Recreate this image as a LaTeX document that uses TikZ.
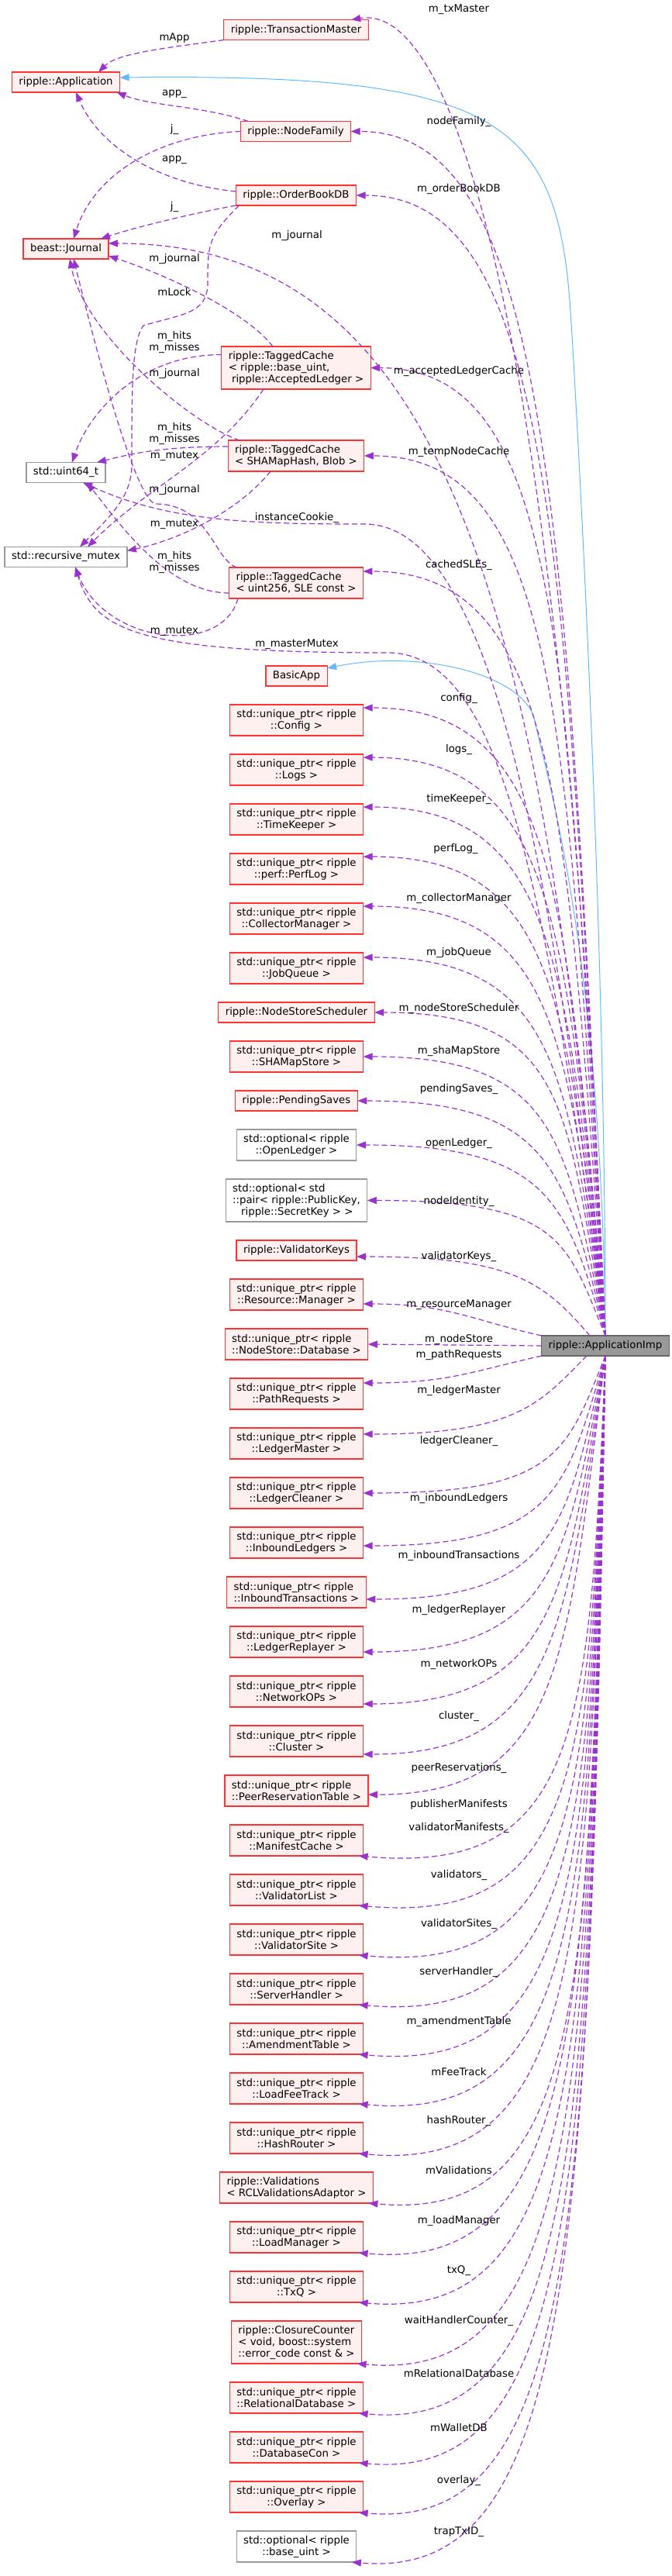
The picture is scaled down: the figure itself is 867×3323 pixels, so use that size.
\documentclass[tikz,border=0pt]{standalone}
\usepackage{fontspec}
\setmainfont{DejaVu Sans}
\usepackage{xcolor}
\usetikzlibrary{arrows.meta,positioning}
\definecolor{GPurple}{HTML}{9A32CD}
\definecolor{GBlue}{HTML}{63B8FF}
\definecolor{GRed}{HTML}{FF3333}
\definecolor{GPink}{HTML}{FFF0F0}
\definecolor{GGray}{HTML}{999999}
\definecolor{GDark}{HTML}{666666}

\begin{document}
\begin{tikzpicture}[
  x=1pt, y=-1pt,
  node distance=24pt,
  every node/.style={font=\fontsize{13.3}{15}\selectfont},
  n/.style={draw=GRed,fill=GPink,line width=1.2pt,inner xsep=9pt,inner ysep=3pt,
    minimum height=26pt,align=center,outer sep=0pt},
  s/.style={n,draw=GGray,fill=white},
  d/.style={n,draw=GDark,fill=GGray},
  two/.style={minimum height=40pt},
  three/.style={minimum height=55pt},
  a/.style={draw=GPurple,line width=1.2pt,dash pattern=on 7pt off 4pt,
    -{Triangle[length=12pt,width=9pt]}},
  b/.style={draw=GBlue,line width=1pt,-{Triangle[length=12pt,width=9pt]}},
  t/.style={inner sep=0pt,align=center}
]
  \useasboundingbox (0,0) rectangle (867,3323);
  % used classes, top left
  \node[n] (trm) at (382,38.5) {ripple::TransactionMaster};
  \node[n] (app) at (85,106) {ripple::Application};
  \node[n] (nf) at (381.5,169.5) {ripple::NodeFamily};
  \node[n] (obdb) at (382,252) {ripple::OrderBookDB};
  \node[n] (jr) at (85,321) {beast::Journal};
  \node[n,three,align=left] (alc) at (382,474.5) {ripple::TaggedCache\\< ripple::base\_uint,\\\ ripple::AcceptedLedger >};
  \node[n,two,align=left] (shc) at (382,588) {ripple::TaggedCache\\< SHAMapHash, Blob >};
  \node[s] (u64) at (85,609.5) {std::uint64\_t};
  \node[s] (rmx) at (85,718.5) {std::recursive\_mutex};
  \node[n,two,align=left] (uc) at (382,752) {ripple::TaggedCache\\< uint256, SLE const >};
  \node[n] (ba) at (382.5,872) {BasicApp};
  \node[d] (imp) at (781,1736) {ripple::ApplicationImp};
  % member column
  \node[n,two,below=of ba] (cfg) {std::unique\_ptr< ripple\\::Config >};
  \node[n,two,below=of cfg] (logs) {std::unique\_ptr< ripple\\::Logs >};
  \node[n,two,below=of logs] (tk) {std::unique\_ptr< ripple\\::TimeKeeper >};
  \node[n,two,below=of tk] (plog) {std::unique\_ptr< ripple\\::perf::PerfLog >};
  \node[n,two,below=of plog] (cmgr) {std::unique\_ptr< ripple\\::CollectorManager >};
  \node[n,two,below=of cmgr] (jq) {std::unique\_ptr< ripple\\::JobQueue >};
  \node[n,below=of jq] (nss) {ripple::NodeStoreScheduler};
  \node[n,two,below=of nss] (sms) {std::unique\_ptr< ripple\\::SHAMapStore >};
  \node[n,below=of sms] (ps) {ripple::PendingSaves};
  \node[s,two,below=of ps] (ol) {std::optional< ripple\\::OpenLedger >};
  \node[s,three,align=left,below=of ol] (nid) {std::optional< std\\::pair< ripple::PublicKey,\\\hspace*{11pt}ripple::SecretKey > >};
  \node[n,below=of nid] (vk) {ripple::ValidatorKeys};
  \node[n,two,below=of vk] (rsm) {std::unique\_ptr< ripple\\::Resource::Manager >};
  \node[n,two,align=left,below=of rsm] (nsdb) {std::unique\_ptr< ripple\\::NodeStore::Database >};
  \node[n,two,below=of nsdb] (pr) {std::unique\_ptr< ripple\\::PathRequests >};
  \node[n,two,below=of pr] (lm) {std::unique\_ptr< ripple\\::LedgerMaster >};
  \node[n,two,below=of lm] (lc) {std::unique\_ptr< ripple\\::LedgerCleaner >};
  \node[n,two,below=of lc] (il) {std::unique\_ptr< ripple\\::InboundLedgers >};
  \node[n,two,align=left,below=of il] (it) {std::unique\_ptr< ripple\\::InboundTransactions >};
  \node[n,two,below=of it] (lr) {std::unique\_ptr< ripple\\::LedgerReplayer >};
  \node[n,two,below=of lr] (nops) {std::unique\_ptr< ripple\\::NetworkOPs >};
  \node[n,two,below=of nops] (clu) {std::unique\_ptr< ripple\\::Cluster >};
  \node[n,two,align=left,below=of clu] (prt) {std::unique\_ptr< ripple\\::PeerReservationTable >};
  \node[n,two,below=of prt] (mc) {std::unique\_ptr< ripple\\::ManifestCache >};
  \node[n,two,below=of mc] (vl) {std::unique\_ptr< ripple\\::ValidatorList >};
  \node[n,two,below=of vl] (vs) {std::unique\_ptr< ripple\\::ValidatorSite >};
  \node[n,two,below=of vs] (sh) {std::unique\_ptr< ripple\\::ServerHandler >};
  \node[n,two,below=of sh] (amt) {std::unique\_ptr< ripple\\::AmendmentTable >};
  \node[n,two,below=of amt] (lft) {std::unique\_ptr< ripple\\::LoadFeeTrack >};
  \node[n,two,below=of lft] (hr) {std::unique\_ptr< ripple\\::HashRouter >};
  \node[n,two,align=left,below=of hr] (vals) {ripple::Validations\\< RCLValidationsAdaptor >};
  \node[n,two,below=of vals] (ldm) {std::unique\_ptr< ripple\\::LoadManager >};
  \node[n,two,below=of ldm] (txq) {std::unique\_ptr< ripple\\::TxQ >};
  \node[n,three,align=left,below=of txq] (cc) {ripple::ClosureCounter\\< void, boost::system\\::error\_code const \& >};
  \node[n,two,align=left,below=of cc] (rdb) {std::unique\_ptr< ripple\\::RelationalDatabase >};
  \node[n,two,below=of rdb] (dbc) {std::unique\_ptr< ripple\\::DatabaseCon >};
  \node[n,two,below=of dbc] (ovl) {std::unique\_ptr< ripple\\::Overlay >};
  \node[s,two,below=of ovl] (ttx) {std::optional< ripple\\::base\_uint >};

  % inheritance
  \draw[b] (imp.north) .. controls +(0,-523) and +(10,151) .. (736,402) .. controls +(-16,-252) and +(484,-5) .. ([yshift=6pt]app.east);
  \draw[b] (imp.north) .. controls +(-5,-500) and +(12,60) .. (690,930) .. controls +(-12,-60) and +(120,-25) .. ([yshift=10pt]ba.east);

  % links among the used classes
  \draw[a] (trm.south west) .. controls +(-70,10) and +(25,-25) .. ([xshift=42pt]app.north);
  \draw[a] ([xshift=10pt]nf.north west) .. controls +(-60,-20) and +(45,18) .. ([xshift=-4pt]app.south east);
  \draw[a] (nf.west) .. controls +(-110,5) and +(25,-80) .. ([xshift=10pt]jr.north);
  \draw[a] ([yshift=5pt]obdb.west) .. controls +(-100,-10) and +(30,70) .. ([xshift=13pt]app.south);
  \draw[a] (obdb.south west) .. controls +(-80,15) and +(30,-10) .. ([xshift=-10pt]jr.north east);
  \draw[a] ([xshift=4pt]obdb.south west) .. controls +(-40,40) and +(0,-50) .. (268,365) .. controls +(0,40) and +(50,-15) .. (185,420) .. controls +(-15,20) and +(0,-100) .. (170,600) .. controls +(0,40) and +(40,-40) .. ([xshift=18pt]rmx.north);
  \draw[a] ([xshift=-30pt]alc.north) .. controls +(-30,-40) and +(90,30) .. ([yshift=-9pt]jr.east);
  \draw[a] ([yshift=17pt]alc.west) .. controls +(-110,0) and +(20,-60) .. ([xshift=8pt]u64.north);
  \draw[a] ([xshift=-42pt]alc.south) .. controls +(-60,90) and +(80,-80) .. ([xshift=28pt]rmx.north);
  \draw[a] ([xshift=15pt]shc.north west) .. controls +(-60,-20) and +(20,100) .. ([xshift=5pt]jr.south);
  \draw[a] ([yshift=12pt]shc.west) .. controls +(-90,0) and +(40,-10) .. ([xshift=40pt]u64.north);
  \draw[a] ([xshift=-33pt]shc.south) .. controls +(-40,50) and +(70,-15) .. ([yshift=8pt]rmx.east);
  \draw[a] ([xshift=10pt]uc.north west) .. controls +(-30,-10) and +(70,0) .. (200,650) .. controls +(-30,-10) and +(15,60) .. ([xshift=10pt]jr.south);
  \draw[a] ([yshift=-13pt]uc.west) .. controls +(-80,0) and +(40,50) .. ([xshift=27pt]u64.south);
  \draw[a] ([xshift=-75pt]uc.south) .. controls +(-20,75) and +(40,100) .. ([xshift=12pt]rmx.south);

  % members of ApplicationImp, upwards
  \draw[a] (imp.north) .. controls +(-50,-1188) and +(150,-25) .. ([xshift=-22pt]trm.north east);
  \draw[a] (imp.north) .. controls +(-50,-1090) and +(250,0) .. (nf.east);
  \draw[a] (imp.north) .. controls +(-50,-1030) and +(250,0) .. (obdb.east);
  \draw[a] (imp.north) .. controls +(-80,-986) and +(420,0) .. ([yshift=7pt]jr.east);
  \draw[a] (imp.north) .. controls +(-50,-873) and +(250,0) .. (alc.east);
  \draw[a] (imp.north) .. controls +(-50,-795) and +(250,0) .. (shc.east);
  \draw[a] (imp.north) .. controls +(-50,-690) and +(250,0) .. ([yshift=15pt]uc.east);
  \draw[a] (imp.north) .. controls +(-80,-740) and +(140,0) .. (470,676) .. controls +(-150,0) and +(110,50) .. ([xshift=22pt]u64.south);
  \draw[a] (imp.north) .. controls +(-80,-620) and +(140,0) .. (500,842) .. controls +(-330,0) and +(25,80) .. ([xshift=12pt]rmx.south);
  \draw[a] (imp.north) .. controls +(-50,-567) and +(250,0) .. ([yshift=-4pt]cfg.north east);
  \draw[a] (imp.north) .. controls +(-50,-522) and +(250,0) .. ([yshift=-4pt]logs.north east);
  \draw[a] (imp.north) .. controls +(-50,-477) and +(250,0) .. ([yshift=-4pt]tk.north east);
  \draw[a] (imp.north) .. controls +(-50,-433) and +(250,0) .. ([yshift=-4pt]plog.north east);
  \draw[a] (imp.north) .. controls +(-50,-388) and +(250,0) .. ([yshift=-4pt]cmgr.north east);
  \draw[a] (imp.north) .. controls +(-50,-343) and +(250,0) .. ([yshift=-6pt]jq.north east);
  \draw[a] (imp.north) .. controls +(-50,-292) and +(250,0) .. (nss.east);
  \draw[a] (imp.north) .. controls +(-50,-252) and +(250,0) .. (sms.east);
  \draw[a] (imp.north) .. controls +(-50,-212) and +(250,0) .. (ps.east);
  \draw[a] (imp.north) .. controls +(-50,-171) and +(250,0) .. (ol.east);
  \draw[a] (imp.north) .. controls +(-50,-122) and +(250,0) .. (nid.east);
  \draw[a] ([xshift=-20pt]imp.north) .. controls +(-60,-70) and +(200,0) .. ([yshift=-8pt]vk.east);
  \draw[a] (imp.north west) .. controls +(-90,-20) and +(110,0) .. ([yshift=-12pt]rsm.east);
  \draw[a] (imp.west) -- (nsdb.east);
  % members of ApplicationImp, downwards
  \draw[a] (imp.south west) .. controls +(-90,20) and +(110,0) .. ([yshift=14pt]pr.east);
  \draw[a] ([xshift=-24pt]imp.south) .. controls +(-60,60) and +(200,0) .. ([yshift=12pt]lm.east);
  \draw[a] (imp.south) .. controls +(-50,125) and +(250,0) .. (lc.east);
  \draw[a] (imp.south) .. controls +(-50,170) and +(250,0) .. ([yshift=-4pt]il.east);
  \draw[a] (imp.south) .. controls +(-50,215) and +(250,0) .. ([yshift=-9pt]it.east);
  \draw[a] (imp.south) .. controls +(-50,260) and +(250,0) .. ([yshift=-13pt]lr.east);
  \draw[a] (imp.south) .. controls +(-50,305) and +(250,0) .. ([yshift=-16pt]nops.east);
  \draw[a] (imp.south) .. controls +(-50,349) and +(250,0) .. ([yshift=-17pt]clu.east);
  \draw[a] (imp.south) .. controls +(-50,394) and +(250,0) .. ([yshift=-5pt]prt.east);
  \draw[a] (imp.south) .. controls +(-20,485) and +(285,25) .. ([xshift=-6pt]mc.south east);
  \draw[a] (imp.south) .. controls +(-20,533) and +(285,25) .. ([xshift=-6pt]vl.south east);
  \draw[a] (imp.south) .. controls +(-20,581) and +(285,25) .. ([xshift=-6pt]vs.south east);
  \draw[a] (imp.south) .. controls +(-20,629) and +(285,25) .. ([xshift=-6pt]sh.south east);
  \draw[a] (imp.south) .. controls +(-20,677) and +(285,25) .. ([xshift=-6pt]amt.south east);
  \draw[a] (imp.south) .. controls +(-20,725) and +(285,25) .. ([xshift=-6pt]lft.south east);
  \draw[a] (imp.south) .. controls +(-20,773) and +(285,25) .. ([xshift=-6pt]hr.south east);
  \draw[a] (imp.south) .. controls +(-20,821) and +(285,25) .. ([xshift=-6pt]vals.south east);
  \draw[a] (imp.south) .. controls +(-20,869) and +(285,25) .. ([xshift=-6pt]ldm.south east);
  \draw[a] (imp.south) .. controls +(-20,917) and +(285,25) .. ([xshift=-6pt]txq.south east);
  \draw[a] (imp.south) .. controls +(-20,975) and +(285,25) .. ([xshift=-6pt]cc.south east);
  \draw[a] (imp.south) .. controls +(-20,1023) and +(285,25) .. ([xshift=-6pt]rdb.south east);
  \draw[a] (imp.south) .. controls +(-20,1071) and +(285,25) .. ([xshift=-6pt]dbc.south east);
  \draw[a] (imp.south) .. controls +(-20,1119) and +(285,25) .. ([xshift=-6pt]ovl.south east);
  \draw[a] (imp.south) .. controls +(-20,1167) and +(285,25) .. ([xshift=-6pt]ttx.south east);

  % edge labels
  \node[t] (ltrm) at (592,12) {m\_txMaster};
  \node[t] (lmapp) at (225,49) {mApp};
  \node[t] (lapp1) at (225,121) {app\_};
  \node[t] (lnf) at (592,157) {nodeFamily\_};
  \node[t] (lj1) at (225,167) {j\_};
  \node[t] (lapp2) at (225,206) {app\_};
  \node[t] (lobdb) at (592,244) {m\_orderBookDB};
  \node[t] (lj2) at (225,267) {j\_};
  \node[t] (ljr0) at (383,304) {m\_journal};
  \node[t] (ljr1) at (225,334) {m\_journal};
  \node[t] (llock) at (225,377) {mLock};
  \node[t] (lhit1) at (225,442) {m\_hits\\m\_misses};
  \node[t] (ljr2) at (225,482) {m\_journal};
  \node[t] (lalc) at (592,479) {m\_acceptedLedgerCache};
  \node[t] (lhit2) at (225,560) {m\_hits\\m\_misses};
  \node[t] (lmtx1) at (225,588) {m\_mutex};
  \node[t] (lshc) at (592,583) {m\_tempNodeCache};
  \node[t] (ljr3) at (225,632) {m\_journal};
  \node[t] (lcookie) at (383,668) {instanceCookie\_};
  \node[t] (lmtx2) at (225,676) {m\_mutex};
  \node[t] (luc) at (592,729) {cachedSLEs\_};
  \node[t] (lhit3) at (225,726) {m\_hits\\m\_misses};
  \node[t] (lmtx3) at (225,814) {m\_mutex};
  \node[t] (lmaster) at (383,831) {m\_masterMutex};
  \node[t] (lcfg) at (592,901) {config\_};
  \node[t] (llogs) at (592,967) {logs\_};
  \node[t] (ltk) at (592,1031) {timeKeeper\_};
  \node[t] (lplog) at (588,1095) {perfLog\_};
  \node[t] (lcmgr) at (592,1159) {m\_collectorManager};
  \node[t] (ljq) at (592,1229) {m\_jobQueue};
  \node[t] (lnss) at (592,1301) {m\_nodeStoreScheduler};
  \node[t] (lsms) at (592,1356) {m\_shaMapStore};
  \node[t] (lps) at (592,1405) {pendingSaves\_};
  \node[t] (lol) at (592,1475) {openLedger\_};
  \node[t] (lnid) at (592,1550) {nodeIdentity\_};
  \node[t] (lvk) at (592,1621) {validatorKeys\_};
  \node[t] (lrsm) at (592,1683) {m\_resourceManager};
  \node[t] (lnsdb) at (592,1728) {m\_nodeStore};
  \node[t] (lpr) at (592,1748) {m\_pathRequests};
  \node[t] (llm) at (592,1794) {m\_ledgerMaster};
  \node[t] (llc) at (592,1859) {ledgerCleaner\_};
  \node[t] (lil) at (592,1933) {m\_inboundLedgers};
  \node[t] (lit) at (592,2007) {m\_inboundTransactions};
  \node[t] (llr) at (592,2077) {m\_ledgerReplayer};
  \node[t] (lnops) at (592,2147) {m\_networkOPs};
  \node[t] (lclu) at (592,2214) {cluster\_};
  \node[t] (lprt) at (592,2281) {peerReservations\_};
  \node[t] (lmc) at (592,2343) {publisherManifests\\\_\\validatorManifests\_};
  \node[t] (lvl) at (592,2419) {validators\_};
  \node[t] (lvs) at (592,2482) {validatorSites\_};
  \node[t] (lsh) at (592,2544) {serverHandler\_};
  \node[t] (lamt) at (592,2608) {m\_amendmentTable};
  \node[t] (llft) at (592,2673) {mFeeTrack};
  \node[t] (lhr) at (592,2736) {hashRouter\_};
  \node[t] (lvals) at (592,2800) {mValidations};
  \node[t] (lldm) at (592,2865) {m\_loadManager};
  \node[t] (ltxq) at (592,2929) {txQ\_};
  \node[t] (lcc) at (592,2994) {waitHandlerCounter\_};
  \node[t] (lrdb) at (592,3062) {mRelationalDatabase};
  \node[t] (ldbc) at (592,3132) {mWalletDB};
  \node[t] (lovl) at (592,3200) {overlay\_};
  \node[t] (lttx) at (592,3266) {trapTxID\_};
\end{tikzpicture}
\end{document}
